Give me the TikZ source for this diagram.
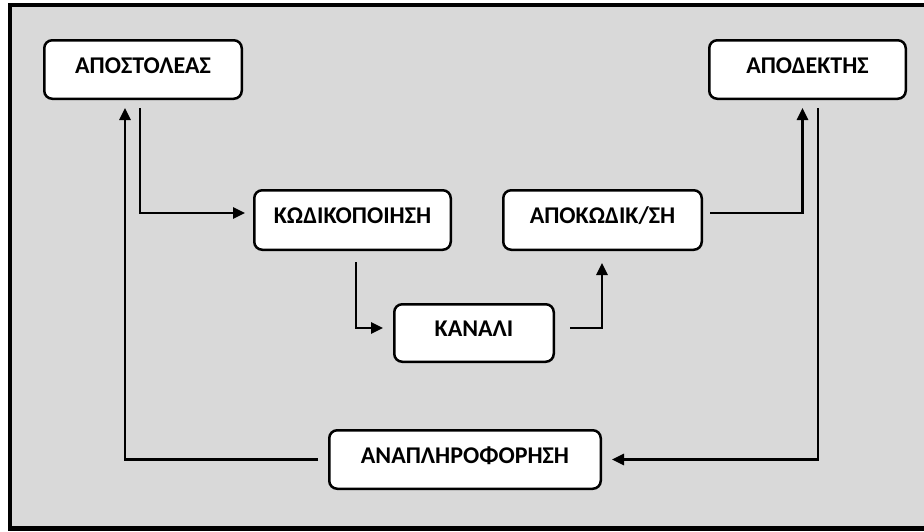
\documentclass[tikz,border=0pt]{standalone}
\usepackage{fontspec}
\setmainfont{Carlito}
\usetikzlibrary{arrows.meta,calc}
\definecolor{bggray}{HTML}{D9D9D9}
\newcommand{\boxtext}[1]{\raisebox{-3.7pt}[0pt][0pt]{#1}}
\tikzset{
  box/.style={draw=black, line width=2.5pt, rounded corners=8pt, fill=white,
    font=\fontsize{24}{28}\selectfont\bfseries, text=black, inner sep=0pt},
  conn/.style={draw=black, line width=2.6pt, -{Triangle[length=12pt,width=11pt]}}
}
\begin{document}
\begin{tikzpicture}[x=1pt,y=-1pt]
\useasboundingbox (0,0) rectangle (924,531);
\draw[line width=4.5pt, fill=bggray] (10,5) rectangle (935,528.5);
\node[box, minimum width=197.5pt, minimum height=58.5pt] (send) at (143,69.5) {\boxtext{ΑΠΟΣΤΟΛΕΑΣ}};
\node[box, minimum width=196.5pt, minimum height=58.5pt] (recv) at (807.5,69.5) {\boxtext{ΑΠΟΔΕΚΤΗΣ}};
\node[box, minimum width=196.5pt, minimum height=59.5pt] (enc) at (352.5,220) {\boxtext{ΚΩΔΙΚΟΠΟΙΗΣΗ}};
\node[box, minimum width=198.5pt, minimum height=59.5pt] (dec) at (602.5,220) {\boxtext{ΑΠΟΚΩΔΙΚ/ΣΗ}};
\node[box, minimum width=159.5pt, minimum height=57.5pt] (chan) at (474,333) {\boxtext{ΚΑΝΑΛΙ}};
\node[box, minimum width=271.5pt, minimum height=58.5pt] (fb) at (465,459.5) {\boxtext{ΑΝΑΠΛΗΡΟΦΟΡΗΣΗ}};
\draw[conn] ($(send.south)+(-3,8)$) |- ($(enc.west)+(-8,-7)$);
\draw[conn] ($(fb.west)+(-10,0)$) -| ($(send.south)+(-18,8)$);
\draw[conn] ($(enc.south)+(3.5,11)$) |- ($(chan.west)+(-10,-5)$);
\draw[conn] ($(chan.east)+(15,-5)$) -| ($(dec.south)+(-0.5,12)$);
\draw[conn] ($(dec.east)+(7,-7)$) -| ($(recv.south)+(-5,8)$);
\draw[conn] ($(recv.south)+(10.5,8)$) |- ($(fb.east)+(10,0)$);
\end{tikzpicture}
\end{document}
